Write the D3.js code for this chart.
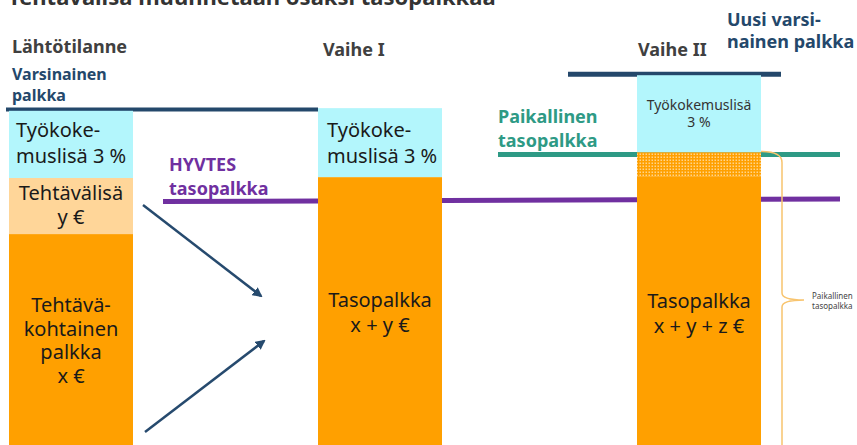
<!DOCTYPE html>
<html>
<head>
<meta charset="utf-8">
<script src="https://cdn.jsdelivr.net/npm/d3@7"></script>
<style>
  body { margin: 0; background: #fff; }
  svg { display: block; font-family: "Noto Sans", sans-serif; }
</style>
</head>
<body>
<svg width="857" height="445"></svg>
<script>
// stages and stacked pieces (arbitrary salary units, 0..100 = full height)
const stages = ["Lähtötilanne", "Vaihe I", "Vaihe II"];
const baseVals = [47.4, 60.2, 60.4];   // tehtäväkohtainen / tasopalkka
const taskVals = [12.6, 0, 0];         // tehtävälisä
const localVals = [0, 0, 5.4];         // paikallinen osuus
const expVals = [15.1, 15.5, 17.3];    // työkokemuslisä

// reference levels
const navyLevels = [75.4, 83.3];
const tealLevel = 65.3;
const purpleLevels = [54.7, 55.3];

const title = "Tehtävälisä muunnetaan osaksi tasopalkkaa";

const svg = d3.select("svg");
const W = 857, H = 445;

const y = d3.scaleLinear().domain([0, 100]).range([H, 0]);
const x = d3.scaleOrdinal().domain(stages).range([9, 318, 637]);
const barW = 124;

const keys = ["base", "task", "local", "exp"];
const rows = stages.map((s, i) => ({
  stage: s, base: baseVals[i], task: taskVals[i], local: localVals[i], exp: expVals[i]
}));
const series = d3.stack().keys(keys)(rows);

const colors = { base: "#ffa000", task: "#ffd699", local: "url(#dots)", exp: "#b3f6fc" };

const defs = svg.append("defs");
const pat = defs.append("pattern").attr("id", "dots")
  .attr("width", 3).attr("height", 3).attr("patternUnits", "userSpaceOnUse");
pat.append("rect").attr("width", 3).attr("height", 3).attr("fill", "#ffa000");
pat.append("rect").attr("x", 0.5).attr("y", 0.5).attr("width", 1.5).attr("height", 1.5).attr("fill", "#ffd48a");

defs.append("marker").attr("id", "arrow")
  .attr("viewBox", "0 0 10 10").attr("refX", 8).attr("refY", 5)
  .attr("markerWidth", 4).attr("markerHeight", 4).attr("orient", "auto")
  .append("path").attr("d", "M0,0 L10,5 L0,10 z").attr("fill", "#264a6e");

// title (cut off at top like in the slide)
svg.append("text").attr("x", 8).attr("y", 5)
  .attr("font-size", 22).attr("font-weight", "bold").attr("fill", "#333")
  .text(title);

// level lines behind bars
svg.append("line")
  .attr("x1", 6).attr("x2", 318)
  .attr("y1", y(navyLevels[0])).attr("y2", y(navyLevels[0]))
  .attr("stroke", "#24486b").attr("stroke-width", 4);
svg.append("line")
  .attr("x1", 568).attr("x2", 781)
  .attr("y1", y(navyLevels[1])).attr("y2", y(navyLevels[1]))
  .attr("stroke", "#24486b").attr("stroke-width", 5);
svg.append("line")
  .attr("x1", 498).attr("x2", 840)
  .attr("y1", y(tealLevel)).attr("y2", y(tealLevel))
  .attr("stroke", "#2e9a85").attr("stroke-width", 5);
svg.append("line")
  .attr("x1", 163).attr("x2", 840)
  .attr("y1", y(purpleLevels[0])).attr("y2", y(purpleLevels[1]))
  .attr("stroke", "#7030a0").attr("stroke-width", 5);

// bars
svg.append("g").selectAll("g")
  .data(series)
  .join("g")
  .attr("fill", d => colors[d.key])
  .selectAll("rect")
  .data(d => d.filter(p => p[1] - p[0] > 0))
  .join("rect")
  .attr("x", d => x(d.data.stage))
  .attr("width", barW)
  .attr("y", d => y(d[1]))
  .attr("height", d => y(d[0]) - y(d[1]));

// texts
function lines(xp, yp, arr, opts) {
  const t = svg.append("text")
    .attr("x", xp).attr("y", yp)
    .attr("font-size", opts.size)
    .attr("font-weight", opts.bold ? "bold" : "normal")
    .attr("fill", opts.color || "#1a1a1a")
    .attr("text-anchor", opts.anchor || "start");
  arr.forEach((s, i) => {
    t.append("tspan").attr("x", xp).attr("dy", i ? opts.lh : 0).text(s);
  });
}

const cx = s => x(s) + barW / 2;

lines(12, 53, ["Lähtötilanne"], { size: 18, bold: true, color: "#404040" });
lines(323, 56, ["Vaihe I"], { size: 18, bold: true, color: "#404040" });
lines(638, 56, ["Vaihe II"], { size: 18, bold: true, color: "#404040" });
lines(12, 80, ["Varsinainen", "palkka"], { size: 16, bold: true, color: "#24486b", lh: 21 });
lines(727, 26, ["Uusi varsi-", "nainen palkka"], { size: 18, bold: true, color: "#24486b", lh: 22 });
lines(169, 171, ["HYVTES", "tasopalkka"], { size: 18, bold: true, color: "#7030a0", lh: 24 });
lines(498, 123, ["Paikallinen", "tasopalkka"], { size: 18, bold: true, color: "#2e9a85", lh: 24 });

lines(16, 137, ["Työkoke-", "muslisä 3 %"], { size: 20, lh: 26 });
lines(327, 137, ["Työkoke-", "muslisä 3 %"], { size: 20, lh: 26 });
lines(cx(stages[2]), 110, ["Työkokemuslisä", "3 %"], { size: 14, lh: 17, anchor: "middle", color: "#333" });
lines(cx(stages[0]), 200, ["Tehtävälisä", "y €"], { size: 20, lh: 24, anchor: "middle" });
lines(cx(stages[0]), 312, ["Tehtävä-", "kohtainen", "palkka", "x €"], { size: 20, lh: 23.5, anchor: "middle" });
lines(cx(stages[1]), 307, ["Tasopalkka", "x + y €"], { size: 20, lh: 25, anchor: "middle" });
lines(cx(stages[2]), 308, ["Tasopalkka", "x + y + z €"], { size: 20, lh: 25, anchor: "middle" });

// arrows
svg.append("line").attr("x1", 143).attr("y1", 205).attr("x2", 261).attr("y2", 296)
  .attr("stroke", "#264a6e").attr("stroke-width", 2.5).attr("marker-end", "url(#arrow)");
svg.append("line").attr("x1", 145).attr("y1", 432).attr("x2", 264).attr("y2", 341)
  .attr("stroke", "#264a6e").attr("stroke-width", 2.5).attr("marker-end", "url(#arrow)");

// bracket for local share
const bx = 782;
svg.append("path")
  .attr("d", `M761,${y(tealLevel) - 3} Q${bx},${y(tealLevel) - 3} ${bx},${y(tealLevel) + 8}
     L${bx},293 Q${bx},300 804,300 Q${bx},300 ${bx},307 L${bx},${H}`)
  .attr("fill", "none").attr("stroke", "#f8c46e").attr("stroke-width", 1.5);
lines(812, 299, ["Paikallinen", "tasopalkka"], { size: 8, lh: 10, color: "#444" });
</script>
</body>
</html>
